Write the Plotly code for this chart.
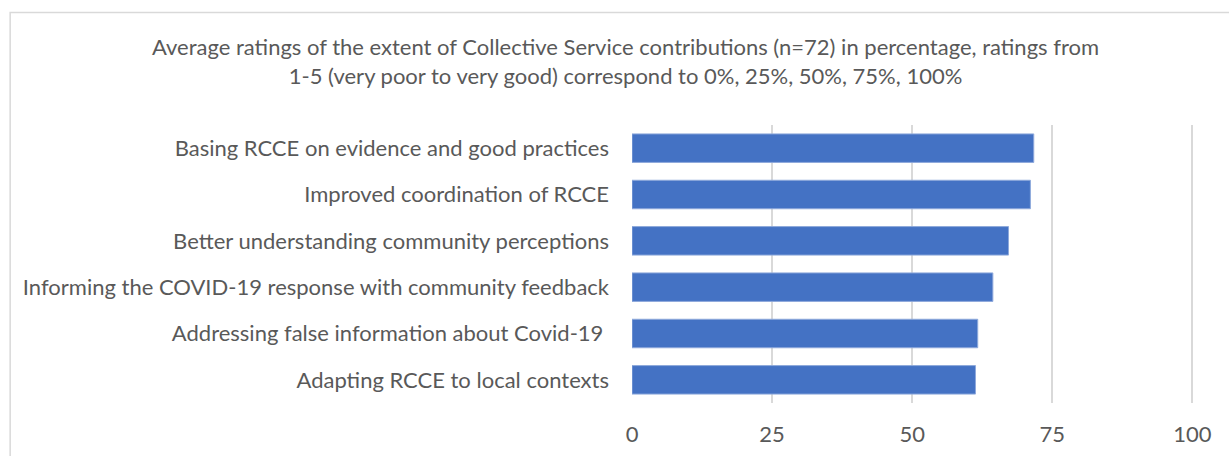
import plotly.graph_objects as go

# Collective Service contribution areas, listed top to bottom
categories = [
    "Basing RCCE on evidence and good practices",
    "Improved coordination of RCCE",
    "Better understanding community perceptions",
    "Informing the COVID-19 response with community feedback",
    "Addressing false information about Covid-19 ",
    "Adapting RCCE to local contexts",
]
# Average rating expressed as percentage (0-100)
scores = [71.7, 71.1, 67.2, 64.4, 61.7, 61.3]
tick_values = [0, 25, 50, 75, 100]
title_lines = [
    "Average ratings of the extent of Collective Service contributions (n=72) in percentage, ratings from",
    "1-5 (very poor to very good) correspond to 0%, 25%, 50%, 75%, 100%",
]

W, H = 1229, 456
X_MAX = 100.3
PL, PB, PT = 632, 403, 125
PR = PL + 560 * X_MAX / 100  # 100 sits at x = 1192

TEXT = "#595959"
FONT = "Lato"
FS = 22


def px_x(p):
    return (p - PL) / (PR - PL)


def px_y(p):
    return (PB - p) / (PB - PT)


fig = go.Figure(
    go.Bar(
        x=scores,
        y=categories,
        orientation="h",
        marker=dict(color="#4472C4", line=dict(color="#8EA9DB", width=1)),
        hoverinfo="x+y",
    )
)

fig.update_layout(
    width=W,
    height=H,
    margin=dict(l=PL, r=W - PR, t=PT, b=H - PB, pad=0),
    paper_bgcolor="white",
    plot_bgcolor="white",
    bargap=0.385,
    showlegend=False,
    font=dict(family=FONT, color=TEXT, size=FS),
    xaxis=dict(
        range=[0, X_MAX],
        tickvals=tick_values,
        ticktext=[str(v) for v in tick_values],
        showgrid=True,
        gridcolor="#D9D9D9",
        gridwidth=2,
        zeroline=False,
        showline=False,
        ticks="",
        ticklabelstandoff=16,
        tickfont=dict(family=FONT, size=FS, color=TEXT),
        automargin=False,
        fixedrange=True,
    ),
    yaxis=dict(
        categoryorder="array",
        categoryarray=categories[::-1],
        showgrid=False,
        zeroline=False,
        showline=False,
        ticks="",
        ticklabelstandoff=22,
        tickfont=dict(family=FONT, size=FS, color=TEXT),
        automargin=False,
        fixedrange=True,
    ),
    shapes=[
        # chart frame
        dict(
            type="rect", xref="paper", yref="paper",
            x0=px_x(10.5), x1=px_x(1240), y0=px_y(470), y1=px_y(12.5),
            line=dict(color="#D9D9D9", width=1.5), fillcolor="rgba(0,0,0,0)",
            layer="below",
        ),
    ],
    annotations=[
        dict(
            text="<br>".join(title_lines),
            xref="paper", yref="paper",
            x=px_x(626), y=px_y(31),
            xanchor="center", yanchor="top",
            showarrow=False,
            font=dict(family=FONT, size=FS, color=TEXT),
        )
    ],
)

fig.write_html("out.html")
